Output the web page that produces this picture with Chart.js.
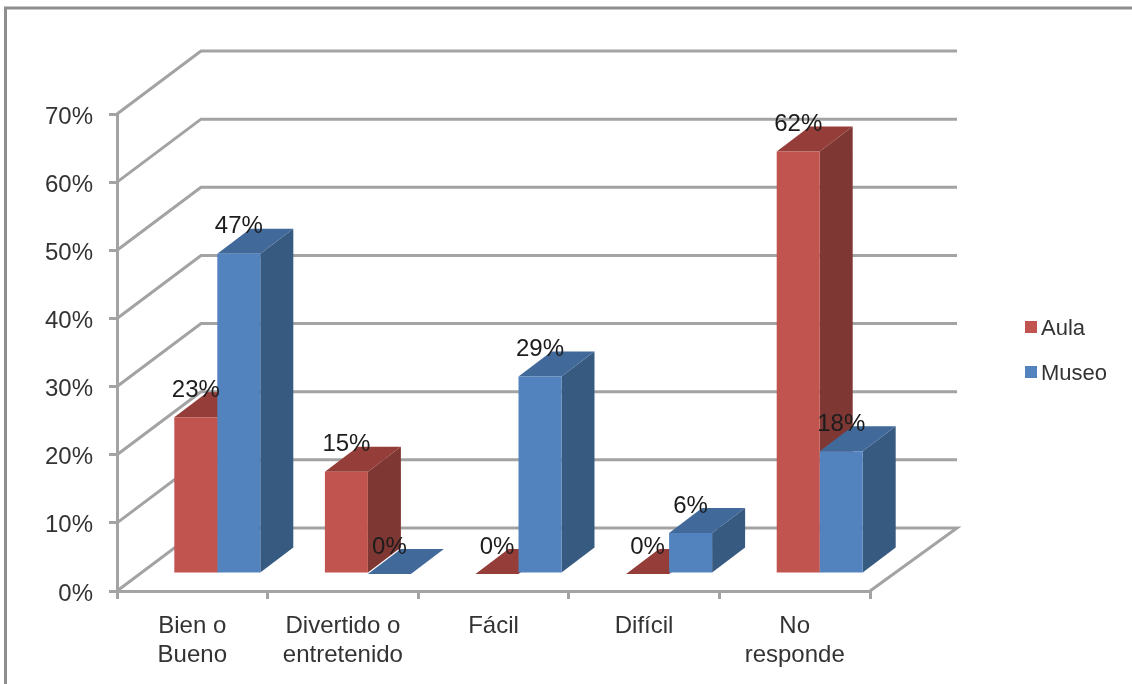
<!DOCTYPE html>
<html><head><meta charset="utf-8">
<style>html,body{margin:0;padding:0;background:#fff;overflow:hidden}canvas{display:block;filter:blur(.45px)}</style>
<script src="https://cdn.jsdelivr.net/npm/chart.js@4"></script></head>
<body><canvas id="c" width="1132" height="684"></canvas>
<script>
const categories = [["Bien o","Bueno"],["Divertido o","entretenido"],"Fácil","Difícil",["No","responde"]];
const aula = [23,15,0,0,62];
const museo = [47,0,29,6,18];
const seriesNames = ["Aula","Museo"];

const FONT = '"Liberation Sans", Arial, sans-serif';
const GRID = '#a3a3a3';
const faces = [
  {front:'#C2544F', side:'#7E3733', top:'#953D39'},
  {front:'#5383BF', side:'#375A80', top:'#41699A'}
];
const wall = {dxL:84, dxR:87, dy:-63};
const plane = {dx:25, dy:-17};
const barDepth = {dx:33, dy:-25};

function poly(ctx, pts, fill){
  ctx.beginPath();
  pts.forEach((p,i)=> i ? ctx.lineTo(p[0],p[1]) : ctx.moveTo(p[0],p[1]));
  ctx.closePath();
  ctx.fillStyle = fill;
  ctx.fill();
}

const scene3d = {
  id:'scene3d',
  beforeDraw(chart){
    const c = chart.ctx;
    c.save();
    c.fillStyle='#fff'; c.fillRect(0,0,chart.width,chart.height);
    c.strokeStyle='#8e8e8e';
    c.lineWidth=3;
    c.beginPath(); c.moveTo(5.5,chart.height); c.lineTo(5.5,8); c.lineTo(chart.width,8); c.stroke();
    c.restore();
  },
  beforeDatasetsDraw(chart){
    const c = chart.ctx, y = chart.scales.y, area = chart.chartArea;
    c.save();
    c.strokeStyle = GRID; c.lineWidth = 3;
    y.ticks.forEach(t=>{
      const py = y.getPixelForValue(t.value);
      c.beginPath();
      c.moveTo(area.left,py);
      c.lineTo(area.left+wall.dxL,py+wall.dy);
      c.lineTo(area.right+wall.dxR,py+wall.dy);
      if(t.value===0) c.lineTo(area.right,py);
      c.stroke();
    });
    c.restore();
    // side and top faces, read from the bar elements Chart.js laid out
    chart.data.labels.forEach((_,i)=>{
      chart.data.datasets.forEach((ds,d)=>{
        const b = chart.getDatasetMeta(d).data[i];
        const f = faces[d];
        const l = b.x-b.width/2+plane.dx, r = b.x+b.width/2+plane.dx;
        const t = b.y+plane.dy, bot = b.base+plane.dy;
        const dx = barDepth.dx, dy = barDepth.dy;
        poly(c,[[r,t],[r+dx,t+dy],[r+dx,bot+dy],[r,bot]],f.side);
        poly(c,[[l,t],[l+dx,t+dy],[r+dx,t+dy],[r,t]],f.top);
      });
    });
    c.save();
    c.translate(plane.dx,plane.dy);
  },
  afterDatasetsDraw(chart){
    const c = chart.ctx;
    c.restore();
    c.save();
    c.font = '24px '+FONT;
    c.fillStyle = '#1c1c1c';
    c.textAlign='center'; c.textBaseline='middle';
    chart.data.datasets.forEach((ds,d)=>{
      chart.getDatasetMeta(d).data.forEach((b,i)=>{
        c.fillText(ds.data[i]+'%', b.x+plane.dx, b.y+plane.dy-27);
      });
    });
    // legend
    const rows = [327,372];
    chart.data.datasets.forEach((ds,d)=>{
      c.fillStyle = faces[d].front;
      c.fillRect(1025,rows[d]-6,12,12);
      c.fillStyle = '#333';
      c.font = '22px '+FONT;
      c.textAlign='left';
      c.fillText(ds.label,1041,rows[d]+2);
    });
    c.restore();
  }
};

new Chart(document.getElementById('c'),{
  type:'bar',
  data:{labels:categories,datasets:[
    {label:seriesNames[0],data:aula,backgroundColor:faces[0].front,borderWidth:0},
    {label:seriesNames[1],data:museo,backgroundColor:faces[1].front,borderWidth:0}
  ]},
  options:{
    responsive:false,animation:false,devicePixelRatio:1,
    layout:{padding:{left:0,top:114,right:262,bottom:0}},
    datasets:{bar:{categoryPercentage:0.571,barPercentage:1}},
    plugins:{legend:{display:false},tooltip:{enabled:false},title:{display:false}},
    scales:{
      x:{
        afterFit(s){s.height=93;},
        grid:{drawOnChartArea:false,color:GRID,lineWidth:3,tickLength:8},
        border:{display:true,color:GRID,width:3},
        ticks:{color:'#333',font:{family:FONT,size:24},padding:13,maxRotation:0,autoSkip:false}
      },
      y:{
        min:0,max:70,
        afterFit(s){s.width=117;},
        grid:{drawOnChartArea:false,color:GRID,lineWidth:3,tickLength:8},
        border:{display:true,color:GRID,width:3},
        ticks:{stepSize:10,color:'#333',font:{family:FONT,size:24},padding:16,labelOffset:3,callback:v=>v+'%'}
      }
    }
  },
  plugins:[scene3d]
});
</script></body></html>
